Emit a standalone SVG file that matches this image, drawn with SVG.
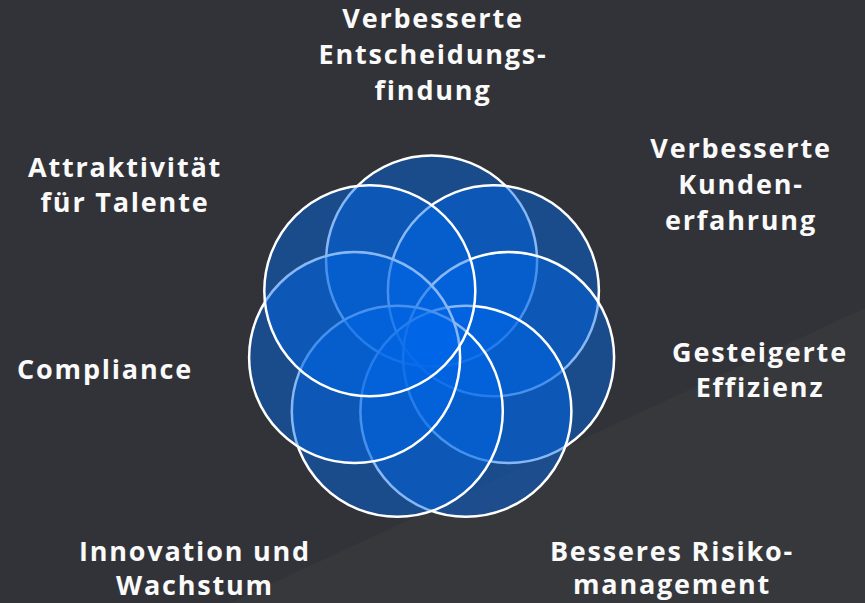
<svg xmlns="http://www.w3.org/2000/svg" width="865" height="603" viewBox="0 0 865 603">
  <style>
    .c { fill: #0067e8; fill-opacity: 0.47; stroke: #ffffff; stroke-width: 2.5; }
    .t { font-family: "Open Sans", "Noto Sans", sans-serif; font-weight: 700; font-size: 27px; fill: #fafafa; text-anchor: middle; letter-spacing: 1.8px; }
  </style>
  <rect x="0" y="0" width="865" height="603" fill="#323338"/>
  <polygon points="230,603 865,308 865,603" fill="#37383c"/>
  <g id="node-entscheidung">
    <circle class="c" cx="431.6" cy="261" r="105.5"/>
    <text class="t" x="433" y="28">Verbesserte</text>
    <text class="t" x="433" y="64">Entscheidungs-</text>
    <text class="t" x="433" y="100">findung</text>
  </g>
  <g id="node-kunden">
    <circle class="c" cx="493.4" cy="290.7" r="105.5"/>
    <text class="t" x="741" y="158">Verbesserte</text>
    <text class="t" x="741" y="194">Kunden-</text>
    <text class="t" x="741" y="230">erfahrung</text>
  </g>
  <g id="node-effizienz">
    <circle class="c" cx="508.6" cy="357.6" r="105.5"/>
    <text class="t" x="760" y="362">Gesteigerte</text>
    <text class="t" x="760" y="397">Effizienz</text>
  </g>
  <g id="node-risiko">
    <circle class="c" cx="465.9" cy="411.2" r="105.5"/>
    <text class="t" x="672" y="561">Besseres Risiko-</text>
    <text class="t" x="672" y="594">management</text>
  </g>
  <g id="node-innovation">
    <circle class="c" cx="397.3" cy="411.2" r="105.5"/>
    <text class="t" x="195" y="561">Innovation und</text>
    <text class="t" x="195" y="595">Wachstum</text>
  </g>
  <g id="node-compliance">
    <circle class="c" cx="354.6" cy="357.6" r="105.5"/>
    <text class="t" x="105" y="379">Compliance</text>
  </g>
  <g id="node-talente">
    <circle class="c" cx="369.8" cy="290.7" r="105.5"/>
    <text class="t" x="125" y="177">Attraktivität</text>
    <text class="t" x="125" y="212">für Talente</text>
  </g>
</svg>
